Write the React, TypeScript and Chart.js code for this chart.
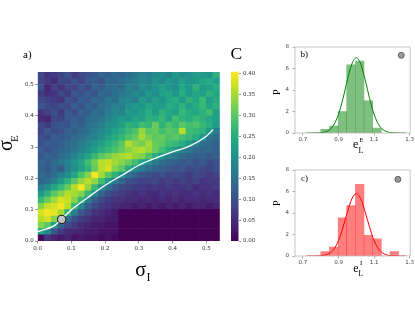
import React, { useEffect, useRef } from 'react';
import { Chart, registerables } from 'chart.js';

Chart.register(...registerables);

// ---------- panel a) heat map ----------
// column centres (sigma_I) and row centres (sigma_E, top row first)
const sigmaI = [0.01, 0.03, 0.05, 0.07, 0.09, 0.11, 0.13, 0.15, 0.17, 0.19, 0.21, 0.23, 0.25, 0.27, 0.29, 0.31, 0.33, 0.35, 0.37, 0.39, 0.41, 0.43, 0.45, 0.47, 0.49, 0.51, 0.53];
const sigmaE = [0.53, 0.51, 0.49, 0.47, 0.45, 0.43, 0.41, 0.39, 0.37, 0.35, 0.33, 0.31, 0.29, 0.27, 0.25, 0.23, 0.21, 0.19, 0.17, 0.15, 0.13, 0.11, 0.09, 0.07, 0.05, 0.03, 0.01];
const cellHalf = 0.01;
// C values in hundredths, one row per sigmaE
const heatValues: number[][] = [
  [9, 6, 7, 8, 10, 7, 9, 10, 11, 13, 12, 14, 13, 15, 16, 18, 17, 19, 20, 18, 22, 20, 21, 23, 22, 21, 26],
  [8, 7, 5, 9, 8, 10, 8, 11, 12, 10, 14, 13, 15, 16, 17, 19, 18, 21, 19, 22, 20, 23, 21, 22, 24, 25, 23],
  [10, 4, 8, 6, 9, 8, 11, 9, 13, 12, 14, 15, 14, 18, 16, 20, 19, 21, 23, 21, 20, 24, 22, 26, 22, 23, 25],
  [7, 5, 6, 9, 7, 11, 10, 12, 10, 14, 13, 15, 16, 17, 19, 18, 22, 20, 23, 24, 21, 25, 22, 24, 23, 26, 24],
  [9, 8, 7, 6, 10, 9, 12, 11, 14, 13, 16, 15, 18, 19, 17, 22, 20, 23, 21, 24, 25, 22, 26, 24, 27, 23, 25],
  [11, 9, 8, 10, 9, 12, 10, 13, 12, 15, 16, 18, 17, 20, 22, 21, 24, 23, 22, 25, 24, 26, 23, 25, 27, 24, 26],
  [6, 8, 10, 7, 11, 9, 13, 12, 15, 14, 17, 19, 18, 22, 21, 23, 25, 22, 26, 24, 23, 27, 25, 24, 26, 28, 23],
  [5, 4, 9, 8, 11, 12, 11, 14, 15, 16, 18, 20, 22, 21, 24, 23, 26, 25, 27, 24, 28, 26, 25, 27, 26, 24, 23],
  [9, 7, 10, 11, 10, 13, 12, 15, 16, 17, 20, 21, 23, 26, 25, 28, 27, 31, 26, 29, 27, 30, 28, 29, 27, 25, 22],
  [8, 11, 9, 10, 13, 12, 14, 15, 17, 19, 21, 23, 25, 27, 29, 34, 30, 31, 28, 30, 29, 36, 28, 27, 26, 22, 17],
  [10, 9, 12, 11, 12, 14, 15, 17, 18, 20, 23, 25, 27, 29, 31, 35, 32, 30, 31, 29, 30, 28, 27, 25, 21, 16, 14],
  [10, 12, 11, 12, 14, 15, 17, 19, 21, 23, 25, 27, 30, 36, 33, 32, 35, 31, 30, 28, 27, 25, 22, 18, 15, 14, 13],
  [12, 10, 12, 13, 14, 16, 18, 20, 23, 25, 27, 29, 31, 33, 35, 36, 34, 31, 28, 25, 22, 18, 16, 14, 13, 14, 12],
  [11, 13, 12, 14, 16, 18, 21, 24, 27, 30, 32, 34, 35, 36, 34, 33, 29, 25, 21, 18, 16, 14, 13, 12, 13, 11, 12],
  [13, 12, 14, 16, 18, 21, 24, 28, 32, 36, 37, 35, 33, 31, 28, 24, 20, 17, 15, 13, 12, 11, 12, 10, 11, 9, 10],
  [13, 11, 14, 12, 17, 20, 23, 26, 31, 36, 38, 33, 30, 25, 20, 17, 14, 13, 12, 11, 10, 11, 9, 10, 9, 8, 10],
  [14, 13, 15, 17, 20, 24, 29, 33, 40, 35, 30, 26, 21, 16, 13, 11, 10, 9, 10, 8, 9, 8, 7, 9, 8, 7, 8],
  [13, 15, 18, 22, 26, 30, 34, 36, 34, 28, 22, 17, 13, 10, 9, 8, 8, 9, 7, 8, 7, 8, 7, 8, 6, 7, 7],
  [17, 20, 24, 27, 31, 36, 40, 34, 27, 20, 15, 11, 9, 8, 7, 7, 6, 7, 6, 7, 6, 6, 7, 5, 6, 6, 7],
  [22, 26, 30, 33, 36, 35, 33, 27, 19, 13, 10, 8, 7, 6, 5, 6, 5, 5, 6, 5, 6, 5, 5, 6, 5, 6, 5],
  [27, 31, 35, 38, 37, 33, 27, 18, 12, 9, 7, 6, 6, 5, 5, 4, 5, 4, 5, 4, 5, 4, 5, 5, 4, 5, 5],
  [33, 37, 38, 40, 36, 27, 19, 12, 9, 7, 6, 5, 4, 4, 3, 4, 3, 4, 3, 4, 3, 4, 3, 4, 4, 3, 4],
  [38, 40, 39, 35, 26, 17, 11, 8, 6, 5, 4, 3, 0, 0, 0, 0, 0, 0, 0, 0, 0, 0, 0, 0, 0, 0, 0],
  [36, 38, 33, 25, 15, 10, 7, 6, 4, 4, 3, 3, 0, 0, 0, 0, 0, 0, 0, 0, 0, 0, 0, 0, 0, 0, 0],
  [33, 30, 22, 13, 9, 7, 5, 4, 3, 3, 2, 2, 0, 0, 0, 0, 0, 0, 0, 0, 0, 0, 0, 0, 0, 0, 0],
  [24, 19, 11, 7, 5, 4, 4, 3, 3, 2, 2, 2, 0, 0, 0, 0, 0, 0, 0, 0, 0, 0, 0, 0, 0, 0, 0],
  [1, 6, 4, 3, 4, 2, 3, 2, 2, 1, 2, 1, 0, 0, 0, 0, 0, 0, 0, 0, 0, 0, 0, 0, 0, 0, 0],
];
const cMax = 0.4055;

// white ridge curve
const ridgeI = [0, 0.05, 0.1, 0.15, 0.2, 0.25, 0.3, 0.35, 0.4, 0.45, 0.5, 0.52];
const ridgeE = [0.03, 0.05, 0.1, 0.14, 0.178, 0.21, 0.242, 0.265, 0.285, 0.303, 0.335, 0.356];
// grey marker
const markerI = [0.071];
const markerE = [0.069];

const heatXTicks = [0, 0.1, 0.2, 0.3, 0.4, 0.5];
const heatXLabels = ['0.0', '0.1', '0.2', '0.3', '0.4', '0.5'];
const heatYTicks = [0, 0.1, 0.2, 0.3, 0.4, 0.5];
const heatYLabels = ['0.0', '0.1', '0.2', '3', '0.4', '0.5'];

const cbTicks = [0, 0.05, 0.1, 0.15, 0.2, 0.25, 0.3, 0.35, 0.4];
const cbLabels = ['0.00', '0.05', '0.10', '0.15', '0.20', '0.25', '0.30', '0.35', '0.40'];

// ---------- panels b) and c) histograms ----------
const binCenters = [0.824, 0.873, 0.922, 0.970, 1.019, 1.068, 1.117, 1.166, 1.214];
const histE = [0.35, 0.65, 2.0, 6.35, 6.7, 3.0, 0.45];
const histI = [0.4, 0.84, 3.55, 4.7, 6.66, 1.93, 1.6, 0, 0.4];
const fitX = [0.72, 0.75, 0.775, 0.8, 0.825, 0.85, 0.875, 0.9, 0.925, 0.95, 0.975, 1.0, 1.025, 1.05, 1.075, 1.1, 1.125, 1.15, 1.175, 1.2, 1.225, 1.25, 1.28];
const fitE = [0, 0, 0.006, 0.027, 0.1, 0.31, 0.8, 1.75, 3.2, 4.95, 6.42, 7.0, 6.42, 4.95, 3.2, 1.75, 0.8, 0.31, 0.1, 0.027, 0.006, 0, 0];
const fitI = [0, 0, 0.005, 0.023, 0.08, 0.26, 0.66, 1.44, 2.66, 4.1, 5.32, 5.8, 5.32, 4.1, 2.66, 1.44, 0.66, 0.26, 0.08, 0.023, 0.005, 0, 0];
const markB = { x: 1.253, y: 7.23 };
const markC = { x: 1.234, y: 7.13 };
const histXTicks = [0.7, 0.9, 1.1, 1.3];
const histXLabels = ['0.7', '0.9', '1.1', '1.3'];
const histYTicks = [0, 2, 4, 6, 8];
const histYLabels = ['0', '2', '4', '6', '8'];

// ---------- styling helpers ----------
const SANS = "'DejaVu Sans', sans-serif";
const SERIF = "'Liberation Serif', 'DejaVu Serif', serif";
const VIRIDIS = ['#440154', '#482475', '#414487', '#355f8d', '#2a788e', '#21918c', '#22a884', '#44bf70', '#7ad151', '#bddf26', '#fde725'];

function hexRgb(h: string) {
  return [parseInt(h.slice(1, 3), 16), parseInt(h.slice(3, 5), 16), parseInt(h.slice(5, 7), 16)];
}
function viridis(t: number) {
  const tt = Math.max(0, Math.min(1, t));
  const p = tt * 10;
  const i = Math.min(9, Math.floor(p));
  const f = p - i;
  const a = hexRgb(VIRIDIS[i]);
  const b = hexRgb(VIRIDIS[i + 1]);
  const c = a.map((v, k) => Math.round(v + (b[k] - v) * f));
  return `rgb(${c[0]},${c[1]},${c[2]})`;
}

const tickFont = { family: SANS, size: 5.5 };

function fixedTicks(values: number[]) {
  return (s: any) => {
    s.ticks = values.map((v) => ({ value: v }));
  };
}

function heatConfig(): any {
  const cells: any[] = [];
  const colors: string[] = [];
  heatValues.forEach((row, r) =>
    row.forEach((v, c) => {
      cells.push({ x: sigmaI[c], y: [sigmaE[r] - cellHalf, sigmaE[r] + cellHalf] });
      colors.push(viridis(v / 100 / cMax));
    })
  );
  return {
    type: 'bar',
    data: {
      datasets: [
        {
          type: 'scatter',
          data: markerI.map((x, i) => ({ x, y: markerE[i] })),
          pointRadius: 4.2,
          backgroundColor: '#c4c4c4',
          borderColor: '#111',
          borderWidth: 1,
          order: 1,
        },
        {
          type: 'line',
          data: ridgeI.map((x, i) => ({ x, y: ridgeE[i] })),
          borderColor: '#ffffff',
          borderWidth: 1.3,
          pointRadius: 0,
          cubicInterpolationMode: 'monotone',
          fill: false,
          order: 2,
        },
        {
          type: 'bar',
          data: cells,
          backgroundColor: colors,
          borderWidth: 0,
          barPercentage: 1,
          categoryPercentage: 1,
          order: 3,
        },
      ],
    },
    options: {
      responsive: false,
      animation: false,
      layout: { padding: { left: 0, right: 4.7, top: 72, bottom: 0 } },
      plugins: { legend: { display: false }, tooltip: { enabled: false } },
      scales: {
        x: {
          type: 'linear',
          min: 0,
          max: 0.54,
          offset: false,
          bounds: 'data',
          afterBuildTicks: fixedTicks(heatXTicks),
          afterFit: (s: any) => {
            s.height = 19;
          },
          ticks: { callback: (_v: any, i: number) => heatXLabels[i], font: tickFont, color: '#333', padding: 1.5, maxRotation: 0, autoSkip: false },
          grid: { display: true, drawOnChartArea: false, drawTicks: true, tickLength: 2.5, color: '#777', lineWidth: 0.8, offset: false },
          border: { display: false },
        },
        y: {
          type: 'linear',
          min: 0,
          max: 0.54,
          bounds: 'data',
          beginAtZero: false,
          afterBuildTicks: fixedTicks(heatYTicks),
          afterFit: (s: any) => {
            s.width = 37.7;
          },
          ticks: { callback: (_v: any, i: number) => heatYLabels[i], font: tickFont, color: '#333', padding: 1.5, autoSkip: false },
          grid: { display: true, drawOnChartArea: false, drawTicks: true, tickLength: 2.5, color: '#777', lineWidth: 0.8 },
          border: { display: false },
        },
      },
    },
  };
}

const colorbarFill = {
  id: 'cbfill',
  beforeDatasetsDraw(chart: any) {
    const { ctx, chartArea: a, scales } = chart;
    const y = scales.y;
    const g = ctx.createLinearGradient(0, y.getPixelForValue(0), 0, y.getPixelForValue(cMax));
    VIRIDIS.forEach((c, i) => g.addColorStop(i / 10, c));
    ctx.save();
    ctx.fillStyle = g;
    ctx.fillRect(a.left, a.top, a.right - a.left, a.bottom - a.top);
    ctx.restore();
  },
};

function colorbarConfig(): any {
  return {
    type: 'bar',
    data: { labels: [], datasets: [] },
    options: {
      responsive: false,
      animation: false,
      layout: { padding: { left: 5, right: 0, top: 71.7, bottom: 19 } },
      plugins: { legend: { display: false }, tooltip: { enabled: false } },
      scales: {
        x: { display: false },
        y: {
          type: 'linear',
          position: 'right',
          min: 0,
          max: cMax,
          bounds: 'data',
          afterBuildTicks: fixedTicks(cbTicks),
          afterFit: (s: any) => {
            s.width = 27.5;
          },
          ticks: { callback: (_v: any, i: number) => cbLabels[i], font: tickFont, color: '#333', padding: 2, autoSkip: false },
          grid: { display: true, drawOnChartArea: false, drawTicks: true, tickLength: 2.5, color: '#777', lineWidth: 0.8 },
          border: { display: false },
        },
      },
    },
    plugins: [colorbarFill],
  };
}

const framePlugin = {
  id: 'frame',
  afterDatasetsDraw(chart: any) {
    const { ctx, chartArea: a } = chart;
    ctx.save();
    ctx.strokeStyle = '#b8b8b8';
    ctx.lineWidth = 0.8;
    ctx.strokeRect(a.left, a.top, a.right - a.left, a.bottom - a.top);
    ctx.restore();
  },
};

function histConfig(values: number[], fit: number[], mark: { x: number; y: number }, fill: string, line: string): any {
  return {
    type: 'bar',
    data: {
      datasets: [
        {
          type: 'scatter',
          data: [mark],
          pointRadius: 3,
          backgroundColor: '#9a9a9a',
          borderColor: '#4a4a4a',
          borderWidth: 0.8,
          order: 1,
        },
        {
          type: 'line',
          data: fitX.map((x, i) => ({ x, y: fit[i] })),
          borderColor: line,
          borderWidth: 1,
          pointRadius: 0,
          cubicInterpolationMode: 'monotone',
          fill: false,
          order: 2,
        },
        {
          type: 'bar',
          data: values.map((v, i) => ({ x: binCenters[i], y: v })),
          backgroundColor: fill,
          borderWidth: 0,
          barPercentage: 1,
          categoryPercentage: 1,
          order: 3,
        },
      ],
    },
    options: {
      responsive: false,
      animation: false,
      layout: { padding: { left: 0, right: 4, top: 17, bottom: 0 } },
      plugins: { legend: { display: false }, tooltip: { enabled: false } },
      scales: {
        x: {
          type: 'linear',
          min: 0.655,
          max: 1.303,
          offset: false,
          bounds: 'data',
          afterBuildTicks: fixedTicks(histXTicks),
          afterFit: (s: any) => {
            s.height = 15;
          },
          ticks: { callback: (_v: any, i: number) => histXLabels[i], font: tickFont, color: '#444', padding: 1, maxRotation: 0, autoSkip: false },
          grid: { display: true, drawOnChartArea: false, drawTicks: true, tickLength: 2.5, color: '#999', lineWidth: 0.8, offset: false },
          border: { display: false },
        },
        y: {
          type: 'linear',
          min: 0,
          max: 8,
          bounds: 'data',
          afterBuildTicks: fixedTicks(histYTicks),
          afterFit: (s: any) => {
            s.width = 25;
          },
          ticks: { callback: (_v: any, i: number) => histYLabels[i], font: tickFont, color: '#444', padding: 3.5, autoSkip: false },
          grid: { display: true, drawOnChartArea: false, drawTicks: true, tickLength: 2.5, color: '#999', lineWidth: 0.8 },
          border: { display: false },
        },
      },
    },
    plugins: [framePlugin],
  };
}

function ChartCanvas({ left, top, width, height, make }: { left: number; top: number; width: number; height: number; make: () => any }) {
  const ref = useRef<HTMLCanvasElement>(null);
  useEffect(() => {
    const chart = new Chart(ref.current as HTMLCanvasElement, make());
    return () => chart.destroy();
  }, []);
  return <canvas ref={ref} width={width} height={height} style={{ position: 'absolute', left, top, width, height }} />;
}

function T({ x, base, size, children }: { x: number; base: number; size: number; children: React.ReactNode }) {
  return (
    <div
      style={{
        position: 'absolute',
        left: x,
        top: base - 0.8375 * size,
        fontSize: size,
        lineHeight: `${size}px`,
        fontFamily: SERIF,
        whiteSpace: 'nowrap',
        color: '#000',
      }}
    >
      {children}
    </div>
  );
}

function R({ xBase, yStart, size, children }: { xBase: number; yStart: number; size: number; children: React.ReactNode }) {
  return (
    <div
      style={{
        position: 'absolute',
        left: xBase - 0.8375 * size,
        top: yStart,
        fontSize: size,
        lineHeight: `${size}px`,
        fontFamily: SERIF,
        whiteSpace: 'nowrap',
        color: '#000',
        transformOrigin: '0 0',
        transform: 'rotate(-90deg)',
      }}
    >
      {children}
    </div>
  );
}

export default function App() {
  return (
    <div style={{ position: 'absolute', left: 0, top: 0, width: 415, height: 312, background: '#fff', overflow: 'hidden' }}>
      <ChartCanvas left={0} top={0} width={225} height={260} make={heatConfig} />
      <ChartCanvas left={226} top={0} width={40} height={260} make={colorbarConfig} />
      <ChartCanvas left={270} top={30} width={145} height={118} make={() => histConfig(histE, fitE, markB, 'rgba(0,128,0,0.5)', '#008000')} />
      <ChartCanvas left={270} top={153} width={145} height={118} make={() => histConfig(histI, fitI, markC, 'rgba(255,0,0,0.5)', '#ff0000')} />

      <T x={23} base={58} size={11}>a)</T>
      <T x={230.5} base={60} size={17.5}>C</T>
      <T x={135.2} base={275.3} size={20}>σ</T>
      <T x={146.5} base={281} size={12}>I</T>
      <R xBase={11.7} yStart={150.7} size={20}>σ</R>
      <R xBase={17.8} yStart={142.3} size={11}>E</R>

      <T x={300.5} base={57.5} size={9}>b)</T>
      <R xBase={280} yStart={94.5} size={10}>P</R>
      <T x={353} base={148.3} size={12}>e</T>
      <T x={359.4} base={142.7} size={6.5}>E</T>
      <T x={358.6} base={154} size={8}>L</T>

      <T x={301} base={182} size={9}>c)</T>
      <R xBase={280} yStart={206.3} size={10}>P</R>
      <T x={353.3} base={271.7} size={12}>e</T>
      <T x={360} base={266} size={7}>I</T>
      <T x={358.3} base={276.7} size={8}>L</T>
    </div>
  );
}
